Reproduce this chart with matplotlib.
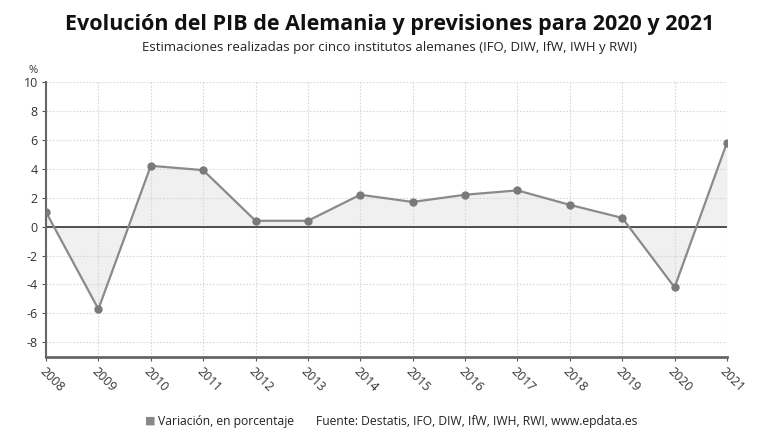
import matplotlib
matplotlib.use("Agg")
import matplotlib.pyplot as plt
import numpy as np

plt.rcParams["font.family"] = ["Open Sans", "DejaVu Sans"]

years = [2008, 2009, 2010, 2011, 2012, 2013, 2014, 2015, 2016, 2017, 2018, 2019, 2020, 2021]
pib = [1.0, -5.7, 4.2, 3.9, 0.4, 0.4, 2.2, 1.7, 2.2, 2.5, 1.5, 0.6, -4.2, 5.8]
yticks = [-8, -6, -4, -2, 0, 2, 4, 6, 8, 10]

fig = plt.figure(figsize=(7.8, 4.4), dpi=100)
ax = fig.add_axes([0.059, 0.189, 0.873, 0.625])

x = np.array(years, dtype=float)
y = np.array(pib)
ax.fill_between(x, y, 0, color="#f0f0f0", interpolate=True, zorder=1, lw=0)
ax.plot(x, y, color="#8a8a8a", lw=1.6, marker="o", ms=5, mfc="#7a7a7a", mec="#7a7a7a", zorder=3)
ax.axhline(0, color="#333333", lw=1.2, zorder=2)

ax.set_xlim(2008, 2021)
ax.set_ylim(-9, 10)
ax.set_xticks(years)
ax.set_xticklabels([str(v) for v in years], rotation=-45, ha="left", va="top",
                   rotation_mode="anchor", fontsize=9, color="#333333")
ax.set_yticks(yticks)
ax.set_yticklabels([str(v) for v in yticks], fontsize=9, color="#333333")
ax.grid(True, color="#d8d8d8", ls=(0, (1.5, 1.5)), lw=0.8, zorder=0)
ax.tick_params(axis="both", length=3, color="#555555", pad=3)

for s in ["top", "right"]:
    ax.spines[s].set_visible(False)
ax.spines["left"].set_color("#666666")
ax.spines["left"].set_linewidth(1.5)
ax.spines["bottom"].set_color("#666666")
ax.spines["bottom"].set_linewidth(2)

ax.text(-0.025, 1.02, "%", transform=ax.transAxes, fontsize=8, color="#333333",
        ha="left", va="bottom")

fig.text(0.5, 0.945, "Evolución del PIB de Alemania y previsiones para 2020 y 2021",
         ha="center", va="center", fontsize=15.5, fontweight="bold", color="#111111")
fig.text(0.5, 0.893, "Estimaciones realizadas por cinco institutos alemanes (IFO, DIW, IfW, IWH y RWI)",
         ha="center", va="center", fontsize=9.5, color="#222222")

fig.text(0.192, 0.043, "\u25a0", ha="center", va="center", fontsize=8, color="#888888")
fig.text(0.202, 0.043, "Variación, en porcentaje", ha="left", va="center", fontsize=8.7, color="#222222")
fig.text(0.405, 0.043, "Fuente: Destatis, IFO, DIW, IfW, IWH, RWI, www.epdata.es",
         ha="left", va="center", fontsize=8.7, color="#222222")

fig.savefig("out.png", dpi=100, facecolor="white")
